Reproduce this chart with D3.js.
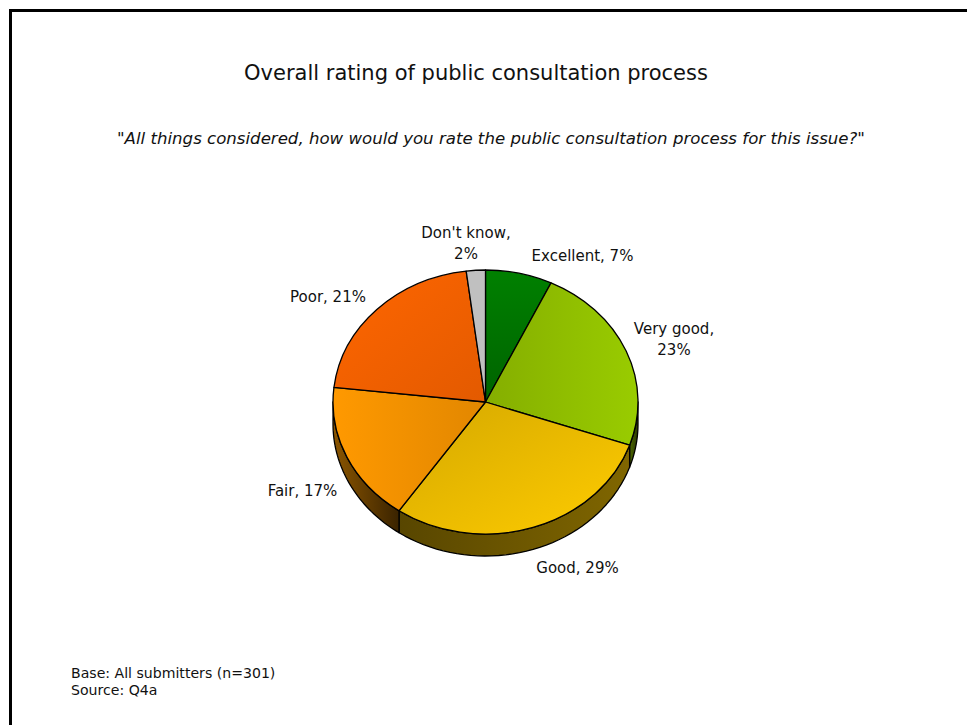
<!DOCTYPE html>
<html>
<head>
<meta charset="utf-8">
<script src="https://cdn.jsdelivr.net/npm/d3@7/dist/d3.min.js"></script>
<style>
html,body{margin:0;padding:0;background:#fff}
svg{display:block}
text{font-family:"DejaVu Sans",sans-serif;fill:#111}
</style>
</head>
<body>
<svg id="chart" width="967" height="725"></svg>
<script>
// Survey results
const categories = ["Excellent", "Very good", "Good", "Fair", "Poor", "Don't know"];
const shares = [7, 23, 29, 17, 21, 2];
const titleText = "Overall rating of public consultation process";
const questionText = "\"All things considered, how would you rate the public consultation process for this issue?\"";
const footnotes = ["Base: All submitters (n=301)", "Source: Q4a"];

// Face shading per slice: start colour, end colour, gradient direction
const faceShades = [
  ["#008000", "#006300", 0, 0, 0, 1],
  ["#85ae00", "#99cc00", 0, 0, 1, 0],
  ["#d4a800", "#ffcc00", 0, 0, 1, 1],
  ["#ff9900", "#e28700", 0, 0, 1, 0],
  ["#ff6600", "#e35a00", 0, 0, 1, 1],
  ["#c0c0c0", "#c0c0c0", 0, 0, 1, 0]
];
// Rim shading per slice, left to right
const rimShades = [
  ["#000", "#000"],
  ["#4c6600", "#2a3800"],
  ["#584600", "#806600"],
  ["#8c5600", "#3a2300"],
  ["#000", "#000"],
  ["#000", "#000"]
];

// Label placement: horizontal centre and first baseline; wrapped labels use two lines
const labelLayout = [
  {x: 582.5, y: 261, wrap: false},
  {x: 674, y: 334, wrap: true},
  {x: 577.5, y: 573, wrap: false},
  {x: 302.5, y: 496, wrap: false},
  {x: 328, y: 302, wrap: false},
  {x: 466, y: 237.5, wrap: true}
];

const cx = 485.5, cy = 402, rx = 152.5, ry = 132, depth = 22;
const svg = d3.select("#chart");
const defs = svg.append("defs");

// Page frame: only the top and left edges fall inside the window
svg.append("rect").attr("x", 10.5).attr("y", 10.5).attr("width", 1200).attr("height", 1200)
  .attr("fill", "none").attr("stroke", "#000").attr("stroke-width", 3);

svg.append("text").attr("x", 476).attr("y", 80).attr("text-anchor", "middle")
  .attr("font-size", 21).text(titleText);
svg.append("text").attr("x", 491).attr("y", 144).attr("text-anchor", "middle")
  .attr("font-size", 16.6).attr("font-style", "italic").text(questionText);

svg.selectAll("text.foot").data(footnotes).join("text").attr("class", "foot")
  .attr("x", 71).attr("y", (d, i) => 678 + i * 17)
  .attr("font-size", 14.1).text(d => d);

const slices = d3.pie().sort(null).value(d => d)(shares);

// Point on the pie's elliptical rim; angle runs clockwise from twelve o'clock
const rimX = a => cx + rx * Math.sin(a);
const rimY = a => cy - ry * Math.cos(a);

function addGradient(id, c0, c1, x1, y1, x2, y2) {
  const g = defs.append("linearGradient").attr("id", id)
    .attr("x1", x1).attr("y1", y1).attr("x2", x2).attr("y2", y2);
  g.append("stop").attr("offset", 0).attr("stop-color", c0);
  g.append("stop").attr("offset", 1).attr("stop-color", c1);
}

faceShades.forEach((s, i) => addGradient("face" + i, ...s));
rimShades.forEach((s, i) => addGradient("rim" + i, s[0], s[1], 0, 0, 1, 0));

// Visible rim: only the part of each slice on the front half of the ellipse
const front = slices.map((s, i) => ({
  i,
  a0: Math.max(s.startAngle, Math.PI / 2),
  a1: Math.min(s.endAngle, Math.PI * 3 / 2)
})).filter(d => d.a1 > d.a0);

const outline = d3.line().x(d => d[0]).y(d => d[1]);
svg.append("g").selectAll("path").data(front).join("path")
  .attr("d", d => {
    const steps = d3.range(0, 41).map(k => d.a0 + (d.a1 - d.a0) * k / 40);
    const upper = steps.map(a => [rimX(a), rimY(a)]);
    const lower = steps.slice().reverse().map(a => [rimX(a), rimY(a) + depth]);
    return outline(upper.concat(lower)) + "Z";
  })
  .attr("fill", d => `url(#rim${d.i})`)
  .attr("stroke", "#000").attr("stroke-width", 1.3).attr("stroke-linejoin", "round");

// Top face: a circular arc squashed vertically into the ellipse
const arc = d3.arc().innerRadius(0).outerRadius(rx);
svg.append("g").attr("transform", `translate(${cx},${cy}) scale(1,${ry / rx})`)
  .selectAll("path").data(slices).join("path")
  .attr("d", arc)
  .attr("fill", (d, i) => `url(#face${i})`)
  .attr("stroke", "#000").attr("stroke-width", 1.3)
  .attr("stroke-linejoin", "round")
  .attr("vector-effect", "non-scaling-stroke");

// Category labels
const labels = svg.append("g").selectAll("text").data(categories).join("text")
  .attr("text-anchor", "middle").attr("font-size", 15);
labels.each(function(name, i) {
  const place = labelLayout[i];
  const sel = d3.select(this).attr("y", place.y);
  const pct = shares[i] + "%";
  if (place.wrap) {
    sel.append("tspan").attr("x", place.x).text(name + ",");
    sel.append("tspan").attr("x", place.x).attr("dy", 21).text(pct);
  } else {
    sel.attr("x", place.x).text(name + ", " + pct);
  }
});
</script>
</body>
</html>
